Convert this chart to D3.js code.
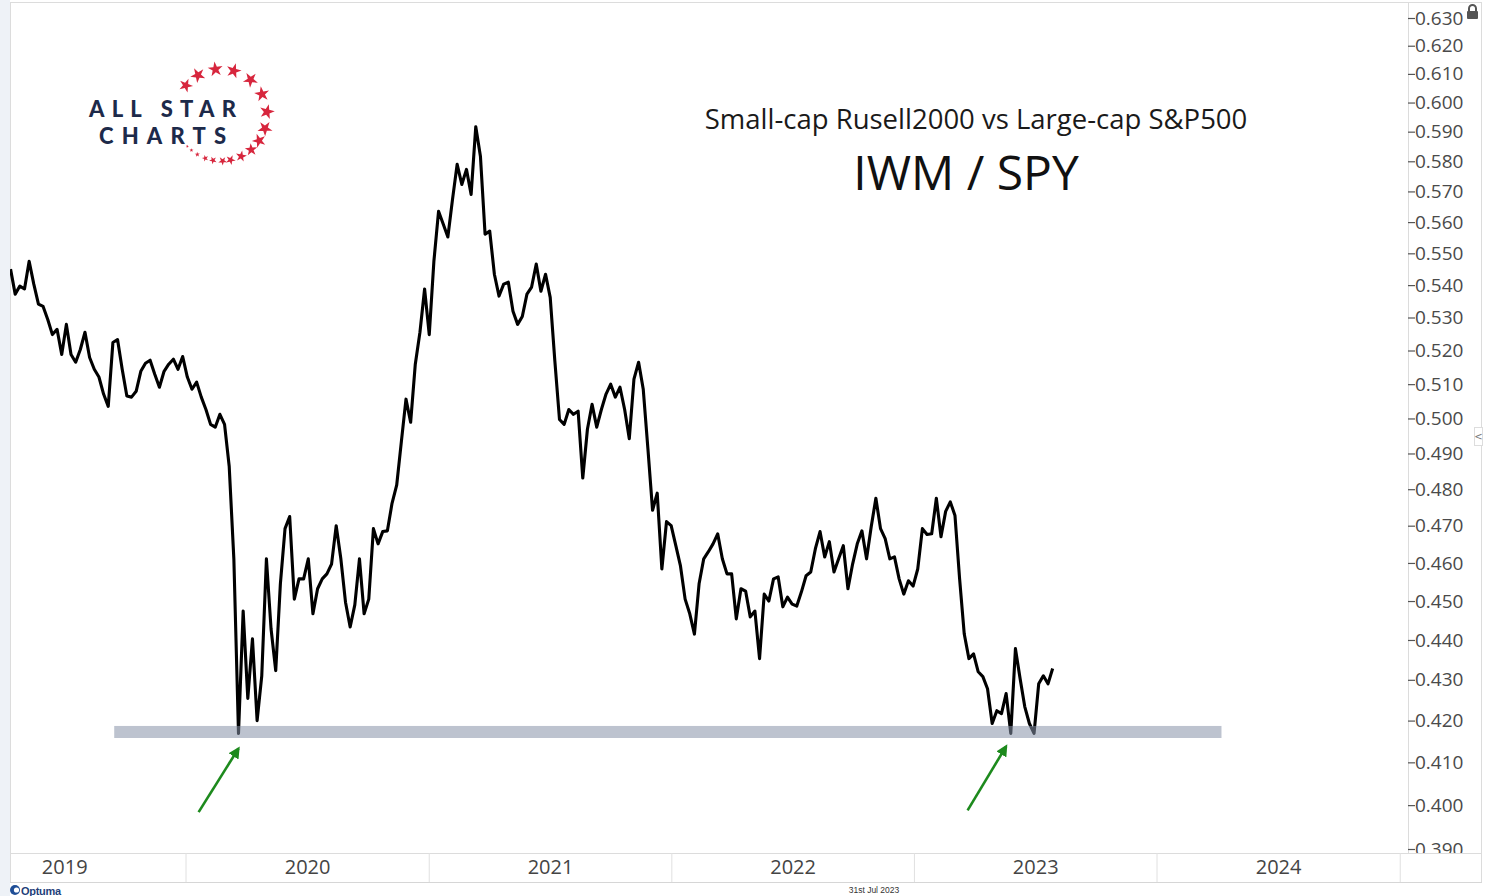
<!DOCTYPE html>
<html><head><meta charset="utf-8">
<script src="https://cdn.jsdelivr.net/npm/d3@7"></script>
<style>body{margin:0;background:#fff;} svg{display:block;}</style>
</head><body>
<svg id="c" width="1485" height="896"></svg>
<script>
// ---- data ----
const seriesStart = [2019, 3, 12];   // first weekly close (12 Apr 2019)
const ratioValues = [
.545,.5372,.5397,.5388,.5475,.5403,.5341,.5334,.5294,.5248,
.5264,.5188,.5279,.5188,.5165,.5203,.5255,.5179,.5144,.5121,
.5071,.5035,.5224,.5233,.5144,.5065,.5062,.5079,.5138,.5162,
.5171,.5129,.5091,.5138,.5159,.5174,.5144,.5182,.5121,.5085,
.5106,.5062,.5026,.4983,.4975,.5012,.4983,.4864,.4611,.4169,
.4474,.4254,.4403,.4200,.4310,.4611,.4428,.4323,.4545,.4692,
.4725,.4505,.4558,.4558,.4611,.4467,.4532,.4558,.4571,.4597,
.4700,.4611,.4497,.4433,.4490,.4611,.4467,.4505,.4692,.4651,
.4684,.4686,.4761,.4811,.4933,.5056,.4989,.5159,.5255,.5388,
.5248,.5475,.5635,.5594,.5552,.5674,.5790,.5723,.5773,.5690,
.5917,.5817,.5561,.5571,.5434,.5366,.5403,.5409,.5319,.5279,
.5303,.5372,.5394,.5466,.5381,.5434,.5362,.5168,.4997,.4983,
.5026,.5012,.5021,.4831,.4969,.5041,.4975,.5026,.5071,.5100,
.5062,.5091,.5026,.4942,.5115,.5165,.5085,.4914,.4742,.4789,
.4584,.4711,.4700,.4646,.4592,.4505,.4467,.4415,.4545,.4611,
.4630,.4651,.4678,.4611,.4571,.4571,.4454,.4532,.4526,.4459,
.4474,.4353,.4518,.4500,.4558,.4563,.4485,.4510,.4492,.4487,
.4524,.4566,.4576,.4638,.4684,.4616,.4657,.4576,.4611,.4646,
.4532,.4597,.4651,.4686,.4611,.4697,.4775,.4692,.4665,.4611,
.4616,.4558,.4518,.4553,.4539,.4584,.4692,.4676,.4678,.4775,
.4670,.4739,.4765,.4728,.4558,.4415,.4353,.4365,.4320,.4308,
.4278,.4193,.4224,.4217,.4266,.4169,.4378,.4303,.4234,.4193,
.4169,.4290,.4310,.4290,.4328
];
const yTickValues = [0.390,0.400,0.410,0.420,0.430,0.440,0.450,0.460,0.470,0.480,0.490,0.500,
  0.510,0.520,0.530,0.540,0.550,0.560,0.570,0.580,0.590,0.600,0.610,0.620,0.630];
const yearLabels = [2019,2020,2021,2022,2023,2024];
const bandDates = ["2019-09-15","2024-04-07"];
const bandValues = [0.4158,0.4187];
const arrowFrom = [["2020-01-20",0.3984],["2023-03-22",0.3988]];
const arrowTo   = [["2020-03-20",0.4133],["2023-05-19",0.4138]];
const logoLines = ["ALL STAR","CHARTS"];
const titleLine1 = "Small-cap Rusell2000 vs Large-cap S&P500";
const titleLine2 = "IWM / SPY";
const dateStamp = "31st Jul 2023";

// ---- layout ----
const W=1485,H=896, L=10, R=1408, T=2, B=853, XB=882, RB=1482;
const svg = d3.select("#c");
const parse = d3.timeParse("%Y-%m-%d");
const data = ratioValues.map((v,i)=>({d:new Date(seriesStart[0],seriesStart[1],seriesStart[2]+7*i), v}));

const x = d3.scaleTime().domain([new Date(2020,0,1), new Date(2024,0,1)]).range([186,1157]);
const y = d3.scaleLog().domain([0.39,0.63]).range([849,18]);

// background gutters
svg.append("rect").attr("x",0).attr("y",0).attr("width",L).attr("height",H).attr("fill","#eef2f7");
svg.append("rect").attr("x",L).attr("y",0).attr("width",RB-L).attr("height",XB).attr("fill","#fff");

const defs = svg.append("defs");
defs.append("clipPath").attr("id","plot").append("rect").attr("x",L).attr("y",T).attr("width",R-L).attr("height",B-T);
defs.append("clipPath").attr("id","yax").append("rect").attr("x",R).attr("y",T).attr("width",RB-R).attr("height",B-T);
defs.append("clipPath").attr("id","xax").append("rect").attr("x",L).attr("y",B).attr("width",R-L).attr("height",XB-B);

// frame lines
const frame = svg.append("g").attr("stroke","#dcdcdc").attr("stroke-width",1).attr("fill","none");
frame.append("rect").attr("x",L+0.5).attr("y",T+0.5).attr("width",RB-L-1).attr("height",XB-T);
frame.append("line").attr("x1",R+0.5).attr("x2",R+0.5).attr("y1",T).attr("y2",B);
frame.append("line").attr("x1",L).attr("x2",RB).attr("y1",B+0.5).attr("y2",B+0.5);

// logo
const logo = svg.append("g");
logo.append("text").attr("x",89).attr("y",117).attr("textLength",147).attr("lengthAdjust","spacing")
  .attr("font-family","Lato, 'DejaVu Sans', sans-serif").attr("font-weight",900).attr("font-size",22)
  .attr("fill","#1d2a4a").text(logoLines[0]);
logo.append("text").attr("x",99).attr("y",144).attr("textLength",127).attr("lengthAdjust","spacing")
  .attr("font-family","Lato, 'DejaVu Sans', sans-serif").attr("font-weight",900).attr("font-size",22)
  .attr("fill","#1d2a4a").text(logoLines[1]);
const starAngles=[-140,-120,-97,-74,-50,-27,-4,17,34,49,64,78,88,100,110,121,130,137];
const starSizes =[60,70,70,70,70,70,70,70,60,48,38,30,24,18,13,8,5,3];
starAngles.forEach((a,i)=>{
  const r=46, cx=221+r*Math.cos(a*Math.PI/180), cy=115+r*Math.sin(a*Math.PI/180);
  logo.append("path").attr("d",d3.symbol(d3.symbolStar,starSizes[i])())
    .attr("transform",`translate(${cx},${cy}) rotate(${a+90})`).attr("fill","#d7263d");
});

// titles
svg.append("text").attr("x",976).attr("y",129).attr("text-anchor","middle")
  .attr("font-family","'Open Sans', sans-serif").attr("font-size",27.5).attr("fill","#1a1a1a").text(titleLine1);
svg.append("text").attr("x",966).attr("y",190).attr("text-anchor","middle")
  .attr("font-family","'Open Sans', sans-serif").attr("font-size",48).attr("fill","#111").text(titleLine2);

// price line
const line = d3.line().x(d=>x(d.d)).y(d=>y(d.v)).curve(d3.curveLinear);
svg.append("path").datum(data).attr("clip-path","url(#plot)")
  .attr("d",line).attr("fill","none").attr("stroke","#000").attr("stroke-width",3.1)
  .attr("stroke-linejoin","round");

// support band (translucent, on top)
svg.append("rect").attr("clip-path","url(#plot)")
  .attr("x",x(parse(bandDates[0]))).attr("width",x(parse(bandDates[1]))-x(parse(bandDates[0])))
  .attr("y",y(bandValues[1])).attr("height",y(bandValues[0])-y(bandValues[1]))
  .attr("fill","rgb(134,146,168)").attr("fill-opacity",0.55);

// arrows
defs.append("marker").attr("id","ah").attr("viewBox","0 0 10 10").attr("refX",8).attr("refY",5)
  .attr("markerWidth",4.5).attr("markerHeight",4.5).attr("orient","auto")
  .append("path").attr("d","M0,0 L10,5 L0,10 z").attr("fill","#1d8a1d");
arrowFrom.forEach((f,i)=>{
  const t=arrowTo[i];
  svg.append("line").attr("x1",x(parse(f[0]))).attr("y1",y(f[1])).attr("x2",x(parse(t[0]))).attr("y2",y(t[1]))
    .attr("stroke","#1d8a1d").attr("stroke-width",2.6).attr("marker-end","url(#ah)");
});

// y axis
const yAxis = d3.axisRight(y).tickValues(yTickValues).tickFormat(d3.format(".3f")).tickSize(7).tickPadding(0);
const ya = svg.append("g").attr("clip-path","url(#yax)").append("g").attr("transform",`translate(${R},0)`).call(yAxis);
ya.select(".domain").remove();
ya.selectAll(".tick line").attr("stroke","#555").attr("stroke-width",1.2);
ya.selectAll(".tick text").attr("font-family","'Open Sans', sans-serif").attr("font-size",19).attr("fill","#4a4a4a").attr("x",7);

// lock icon
const lk = svg.append("g").attr("transform","translate(1466,4)");
lk.append("rect").attr("x",-1).attr("y",0).attr("width",15).attr("height",17).attr("fill","#fff");
lk.append("path").attr("d","M3,7 V4.5 a3.5,3.5 0 0 1 7,0 V7").attr("fill","none").attr("stroke","#555").attr("stroke-width",2);
lk.append("rect").attr("x",1).attr("y",7).attr("width",11).attr("height",8).attr("rx",1).attr("fill","#555");
// collapse tab
svg.append("rect").attr("x",1474.5).attr("y",427.5).attr("width",8).attr("height",18).attr("fill","#fff").attr("stroke","#ddd");
svg.append("text").attr("x",1478.5).attr("y",440).attr("text-anchor","middle").attr("font-size",10)
  .attr("font-family","'DejaVu Sans', sans-serif").attr("fill","#777").text("<");

// x axis band
const xa = svg.append("g").attr("clip-path","url(#xax)");
d3.range(2020,2026).forEach(yr=>{
  const px = x(new Date(yr,0,1));
  xa.append("line").attr("x1",px).attr("x2",px).attr("y1",B).attr("y2",XB).attr("stroke","#e0e0e0");
});
yearLabels.forEach(yr=>{
  const mid = (x(new Date(yr,0,1))+x(new Date(yr+1,0,1)))/2;
  xa.append("text").attr("x",mid).attr("y",874).attr("text-anchor","middle")
    .attr("font-family","'Open Sans', sans-serif").attr("font-size",20).attr("fill","#444").text(yr);
});
svg.append("line").attr("x1",L).attr("x2",RB).attr("y1",XB+0.5).attr("y2",XB+0.5).attr("stroke","#d6d6d6");

// footer
svg.append("text").attr("x",874).attr("y",893).attr("text-anchor","middle")
  .attr("font-family","'Liberation Sans Narrow', 'Liberation Sans', sans-serif").attr("font-size",8.5)
  .attr("fill","#333").text(dateStamp);
const op = svg.append("g").attr("transform","translate(10,884)");
op.append("circle").attr("cx",5).attr("cy",6).attr("r",5).attr("fill","#1f4e96");
op.append("circle").attr("cx",6.5).attr("cy",6).attr("r",2.6).attr("fill","#fff");
op.append("text").attr("x",11).attr("y",11).attr("font-family","'Liberation Sans', sans-serif")
  .attr("font-size",11).attr("font-weight",700).attr("fill","#1f3f7a").attr("letter-spacing",-0.3).text("Optuma");
</script>
</body></html>
